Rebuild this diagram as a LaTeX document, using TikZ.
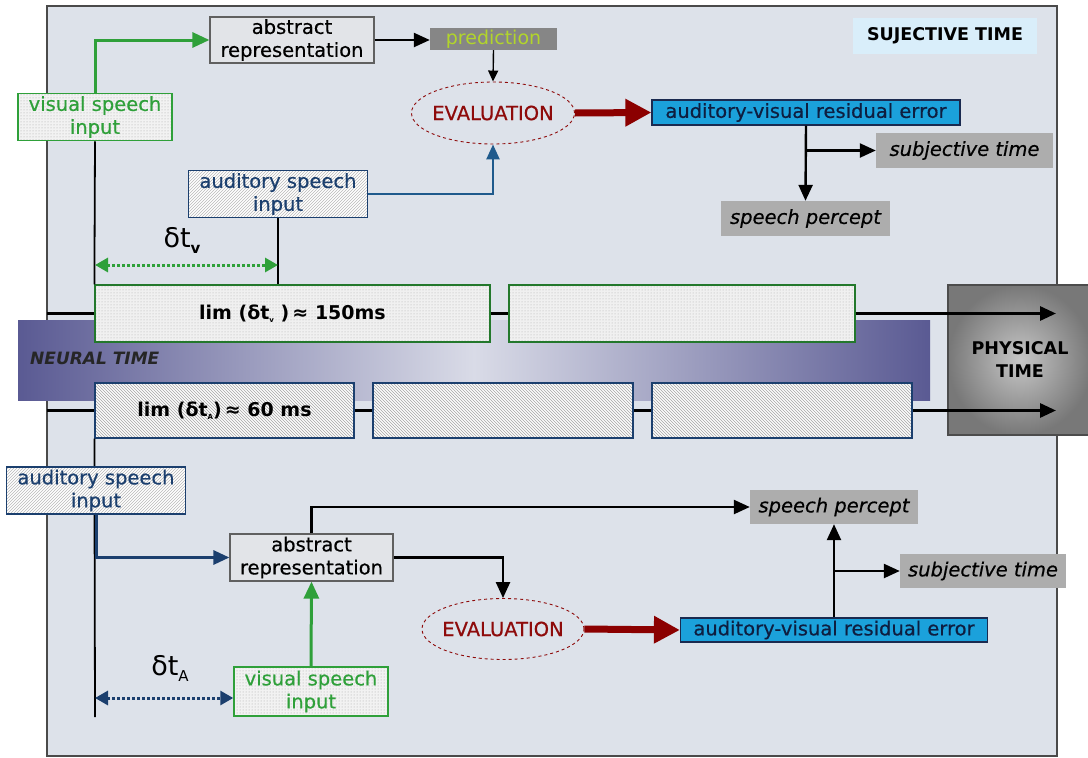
\documentclass[tikz,border=0pt]{standalone}
\usepackage{fontspec}
\setmainfont{DejaVu Sans}
\newfontfamily\heavyfont{DejaVu Sans}[FakeBold=0.5]
\usetikzlibrary{arrows.meta,patterns,shapes.geometric}

\definecolor{bgpanel}{HTML}{DDE2EA}
\definecolor{framegray}{HTML}{4A4A4A}
\definecolor{vgreen}{HTML}{2FA03A}
\definecolor{anavy}{HTML}{1B3F6E}
\definecolor{topblue}{HTML}{1F5A8C}
\definecolor{evalred}{HTML}{8E0B0B}
\definecolor{redarrow}{HTML}{8B0000}
\definecolor{errblue}{HTML}{1BA1DB}
\definecolor{errline}{HTML}{1A2A50}
\definecolor{errtext}{HTML}{0E1E40}
\definecolor{outgray}{HTML}{ADADAD}
\definecolor{predgray}{HTML}{868686}
\definecolor{predtext}{HTML}{B2D52B}
\definecolor{subjblue}{HTML}{D9EEFA}
\definecolor{absfill}{HTML}{E2E4E8}
\definecolor{neuraldark}{HTML}{5A5A93}
\definecolor{neurallight}{HTML}{D9DBE7}
\definecolor{phyin}{HTML}{C6C6C6}
\definecolor{phyout}{HTML}{787878}

\begin{document}
\begin{tikzpicture}[x=1pt,y=-1pt,
  box/.style={rectangle, inner sep=0pt, align=center, font=\heavyfont\fontsize{19.5}{23}\selectfont},
  absbox/.style={box, fill=absfill, draw=gray!75!black, line width=1.2pt, minimum width=164pt, minimum height=46pt},
  visbox/.style={box, preaction={fill=gray!10}, pattern=dots, pattern color=gray!70,
    draw=vgreen, line width=1.5pt, text=vgreen, minimum width=154pt, minimum height=47pt},
  audbox/.style={box, preaction={fill=white}, pattern=north east lines, pattern color=gray!55,
    draw=anavy, line width=1.5pt, text=anavy, minimum width=179pt, minimum height=47pt},
  outbox/.style={box, fill=outgray, font=\heavyfont\fontsize{19.5}{23}\selectfont\itshape, minimum height=35pt},
  errbox/.style={box, fill=errblue, draw=errline, line width=1.2pt, text=errtext, minimum width=308pt, minimum height=25pt},
  evalnode/.style={ellipse, draw=evalred, dashed, line width=0.9pt, fill=bgpanel, text=evalred,
    font=\heavyfont\fontsize{19.5}{23}\selectfont, inner xsep=-4pt, inner ysep=0pt,
    minimum width=163pt, minimum height=62pt},
  upbox/.style={rectangle, preaction={fill=gray!12}, pattern=dots, pattern color=gray!65,
    draw=vgreen!75!black, line width=1.2pt, inner sep=0pt, minimum height=57pt,
    font=\fontsize{19}{22}\selectfont\bfseries},
  lowbox/.style={rectangle, preaction={fill=white!97!gray}, pattern=north west lines, pattern color=gray!70,
    draw=anavy, line width=1.2pt, inner sep=0pt, minimum height=55pt,
    font=\fontsize{19}{22}\selectfont\bfseries},
  tl/.style={draw=black, line width=3pt},
  axisline/.style={draw=black, line width=1.8pt},
  arrblk/.style={draw=black, line width=2.4pt, -{Triangle[length=16pt,width=14pt]}},
  arrthin/.style={draw=black, line width=1.4pt, -{Triangle[length=11pt,width=10pt]}},
  arrgrn/.style={draw=vgreen, line width=3pt, -{Triangle[length=17pt,width=15pt]}},
  arrnavy/.style={draw=anavy, line width=3pt, -{Triangle[length=16pt,width=14pt]}},
  arrtopblue/.style={draw=topblue, line width=2.5pt, -{Triangle[length=15pt,width=13pt]}},
  arrred/.style={draw=redarrow, line width=7pt, -{Triangle[length=26pt,width=26pt]}},
  dotgrn/.style={draw=vgreen, line width=3pt, dash pattern=on 2.5pt off 2.5pt,
    {Triangle[length=13pt,width=14pt]}-{Triangle[length=13pt,width=14pt]}},
  dotnavy/.style={draw=anavy, line width=3pt, dash pattern=on 2.5pt off 2.5pt,
    {Triangle[length=13pt,width=14pt]}-{Triangle[length=13pt,width=14pt]}},
  deltalab/.style={font=\fontsize{27}{27}\selectfont, inner sep=0pt}
]
\clip (0,0) rectangle (1088,758);
\fill[white] (0,0) rectangle (1088,758);

% panel
\draw[framegray, line width=2pt, fill=bgpanel] (47,6) rectangle (1057,756);

% neural time band
\shade[left color=neuraldark, right color=neuraldark, middle color=neurallight] (18,320) rectangle (930,400);
\node[anchor=west, inner sep=0pt, font=\fontsize{17}{20}\selectfont\bfseries\itshape, text=black!85] (neural) at (30,358) {NEURAL TIME};

% physical time block
\node[rectangle, minimum width=144pt, minimum height=150pt, inner sep=0pt, draw=black!70, line width=1.2pt,
  inner color=phyin, outer color=phyout, align=center,
  font=\fontsize{17.5}{23}\selectfont\bfseries] (phys) at (1020,360) {PHYSICAL\\TIME};

% time windows
\node[upbox, minimum width=395pt] (U1) at (292.5,313.5)
  {lim (δt\raisebox{-3pt}{\fontsize{7}{7}\selectfont v} )\,≈ 150ms};
\node[upbox, minimum width=346pt] (U2) at (682,313.5) {};
\node[lowbox, minimum width=259pt] (L1) at (224.5,410.5)
  {lim (δt\raisebox{-3pt}{\fontsize{7}{7}\selectfont A})\,≈ 60 ms};
\node[lowbox, minimum width=260pt] (L2) at (503,410.5) {};
\node[lowbox, minimum width=260pt] (L3) at (782,410.5) {};

\coordinate (tuL) at (47,313.5);
\coordinate (tuR) at (1056,313.5);
\coordinate (tlL) at (47,410.5);
\coordinate (tlR) at (1056,410.5);
\draw[tl] (tuL) -- (U1.west);
\draw[tl] (U1.east) -- (U2.west);
\draw[tl, -{Triangle[length=16pt,width=14pt]}] (U2.east) -- (tuR);
\draw[tl] (tlL) -- (L1.west);
\draw[tl] (L1.east) -- (L2.west);
\draw[tl] (L2.east) -- (L3.west);
\draw[tl, -{Triangle[length=16pt,width=14pt]}] (L3.east) -- (tlR);

% ---------- upper half: visual lead ----------
\node[absbox] (absT) at (292,40) {abstract\\representation};
\node[visbox] (vsiT) at (95,117) {visual speech\\input};
\node[audbox] (asiT) at (278,194) {auditory speech\\input};
\node[box, fill=predgray, text=predtext, minimum width=127pt, minimum height=22pt,
  font=\fontsize{19}{20}\selectfont] (pred) at (493.5,39) {prediction};
\node[evalnode] (evalT) at (493,113) {EVALUATION};
\node[errbox] (errT) at (806,112.5) {auditory-visual residual error};
\node[outbox, minimum width=177pt] (subjT) at (964.5,150.5) {subjective time};
\node[outbox, minimum width=169pt] (percT) at (805.5,218.5) {speech percept};
\node[box, fill=subjblue, minimum width=184pt, minimum height=36pt,
  font=\fontsize{17.5}{20}\selectfont\bfseries] (suj) at (945,36) {SUJECTIVE TIME};

\draw[axisline] (vsiT.south) -- (U1.north west);
\draw[axisline] (asiT.south) -- (asiT.south |- U1.north);
\draw[arrgrn] (vsiT.north) |- (absT.west);
\draw[arrblk] (absT.east) -- (absT.east -| pred.west);
\draw[arrthin] (pred.south) -- (evalT.north);
\draw[arrtopblue] (asiT.east) -| (evalT.south);
\draw[arrred] (evalT.east) -- (errT.west);
\coordinate (brT) at (806,150.5);
\draw[arrblk] (errT.south) -- (percT.north);
\draw[arrblk] (brT) -- (subjT.west);

\coordinate (dv) at (0,265);
\draw[dotgrn] (vsiT.south |- dv) -- (asiT.south |- dv);
\node[deltalab] (dvlab) at (182,240) {δt\raisebox{-6pt}{\fontsize{15}{15}\selectfont\bfseries v}};

% ---------- lower half: auditory lead ----------
\coordinate (axEnd) at (95,717);
\draw[axisline] (L1.south west) -- (axEnd);
\node[audbox] (asiB) at (96,490.5) {auditory speech\\input};
\node[absbox, minimum width=163pt, minimum height=47pt] (absB) at (311.5,557.5) {abstract\\representation};
\node[visbox, minimum height=49pt] (vsiB) at (311,691.5) {visual speech\\input};
\node[evalnode, minimum width=162pt, minimum height=61pt] (evalB) at (503,629) {EVALUATION};
\node[errbox, minimum width=307pt, minimum height=24pt] (errB) at (834,630) {auditory-visual residual error};
\node[outbox, minimum width=168pt, minimum height=34pt] (percB) at (834,507) {speech percept};
\node[outbox, minimum width=166pt, minimum height=34pt] (subjB) at (983,571) {subjective time};

\draw[arrnavy] (asiB.south) |- (absB.west);
\draw[arrgrn] (vsiB.north) -- (absB.south);
\draw[arrblk] (absB.north) |- (percB.west);
\draw[arrblk] (absB.east) -| (evalB.north);
\draw[arrred] (evalB.east) -- (errB.west);
\coordinate (brB) at (834,571);
\draw[arrblk] (errB.north) -- (percB.south);
\draw[arrblk] (brB) -- (subjB.west);

\coordinate (da) at (0,698);
\draw[dotnavy] (axEnd |- da) -- (vsiB.west |- da);
\node[deltalab] (dalab) at (170,668) {δt\raisebox{-6pt}{\fontsize{15}{15}\selectfont A}};
\end{tikzpicture}
\end{document}
